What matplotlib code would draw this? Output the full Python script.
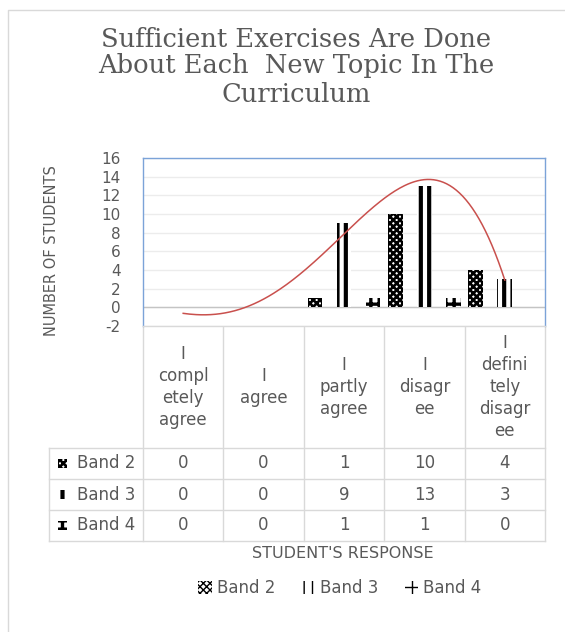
import matplotlib
matplotlib.use('Agg')
import matplotlib.pyplot as plt
import numpy as np
from matplotlib.patches import Rectangle

plt.rcParams['axes.unicode_minus'] = False

# survey answers, one column per response category
categories = ['I\ncompl\netely\nagree', 'I\nagree', 'I\npartly\nagree',
              'I\ndisagr\nee', 'I\ndefini\ntely\ndisagr\nee']
bands = ['Band 2', 'Band 3', 'Band 4']
band2 = [0, 0, 1, 10, 4]
band3 = [0, 0, 9, 13, 3]
band4 = [0, 0, 1, 1, 0]

# polynomial trendline, sampled along the category axis
trend_x = [1.0, 1.37, 1.67, 2.08, 2.5, 2.83, 3.0, 3.37, 3.79, 4.08, 4.33, 4.62, 4.83, 5.0]
trend_y = [-0.73, -0.7, -0.1, 1.23, 3.7, 6.2, 7.85, 11.3, 13.1, 13.6, 13.1, 10.2, 6.6, 3.15]

txt = '#595959'
grid_c = '#d9d9d9'
W, H = 565, 632

def fx(px):
    return px / W

def fy(py):
    return 1 - py / H

fig = plt.figure(figsize=(W / 100, H / 100), dpi=100)

# background layer in pixel units for border, table and titles
bg = fig.add_axes([0, 0, 1, 1], zorder=-1)
bg.set_xlim(0, W)
bg.set_ylim(H, 0)
bg.axis('off')

ax = fig.add_axes([fx(143), fy(326), (545 - 143) / W, (326 - 158) / H])
ax.set_xlim(0.5, 5.5)
ax.set_ylim(-2, 16)
ax.set_yticks(range(-2, 17, 2))
ax.set_xticks([])
ax.tick_params(axis='y', length=0, pad=16, labelsize=11, labelcolor=txt)
ax.grid(axis='y', color='#ececec', lw=1)
ax.set_axisbelow(True)
ax.axhline(0, color='#c4c4c4', lw=1, zorder=1)
for s in ax.spines.values():
    s.set_color('#7ba3d8')
    s.set_linewidth(1)
ax.spines['bottom'].set_color(grid_c)

x = np.arange(1, 6)
w = 0.185
styles = [(band2, -0.36, 'xxxxx', 1.9), (band3, 0.0, '||', 3.0), (band4, 0.36, '++', 2.4)]
handles = []
for vals, off, hatch, hlw in styles:
    with plt.rc_context({'hatch.linewidth': hlw}):
        bars = ax.bar(x + off, vals, w, color='white', edgecolor='black',
                      hatch=hatch, linewidth=0, zorder=2)
    for b in bars:
        if hasattr(b, 'set_hatch_linewidth'):
            b.set_hatch_linewidth(hlw)
    handles.append(bars)

coef = np.polyfit(trend_x, trend_y, 4)
xs = np.linspace(1, 5, 200)
ax.plot(xs, np.polyval(coef, xs), color='#c9504d', lw=1.1, zorder=3)

# chart title
title_lines = ['Sufficient Exercises Are Done', 'About Each  New Topic In The', 'Curriculum']
for line, yb in zip(title_lines, [46.7, 73.5, 101.7]):
    bg.text(296, yb, line, ha='center', va='baseline', fontsize=18.5,
            family='DejaVu Serif', color=txt)

fig.text(fx(52), fy(251), 'NUMBER OF STUDENTS', rotation=90, ha='center',
         va='center', fontsize=10.5, color=txt)

# outer frame
bg.plot([8, 8, W + 5], [H + 5, 10, 10], color='#d9d9d9', lw=1)

# data table under the plot
cols = [ax.transData.transform((e, 0))[0] for e in np.arange(0.5, 6)]
rows = [326, 448, 479, 510, 541]
left = 49
for c in cols:
    bg.plot([c, c], [rows[0], rows[-1]], color=grid_c, lw=1)
bg.plot([left, left], [rows[1], rows[-1]], color=grid_c, lw=1)
for r in rows[1:]:
    bg.plot([left, cols[-1]], [r, r], color=grid_c, lw=1)

centers = [(cols[i] + cols[i + 1]) / 2 for i in range(5)]
for cx, lab in zip(centers, categories):
    bg.text(cx, (rows[0] + rows[1]) / 2, lab, ha='center', va='center',
            fontsize=12, linespacing=1.3, color=txt)

for k, (vals, off, hatch, hlw) in enumerate(styles):
    yc = (rows[k + 1] + rows[k + 2]) / 2
    for cx, v in zip(centers, vals):
        bg.text(cx, yc, str(v), ha='center', va='center', fontsize=12, color=txt)
    with plt.rc_context({'hatch.linewidth': hlw}):
        key = Rectangle((58, yc - 4.5), 9, 9, facecolor='white', edgecolor='black',
                        hatch=hatch, linewidth=0)
    if hasattr(key, 'set_hatch_linewidth'):
        key.set_hatch_linewidth(hlw)
    bg.add_patch(key)
    bg.text(77, yc, bands[k], ha='left', va='center', fontsize=12, color=txt)

bg.text(343, 553, "STUDENT'S RESPONSE", ha='center', va='center',
        fontsize=11.5, color=txt)

fig.legend(handles, bands, loc='center', bbox_to_anchor=(fx(340), fy(588)),
           ncol=3, frameon=False, fontsize=12, handlelength=0.8, handleheight=0.8,
           handletextpad=0.3, columnspacing=1.6, labelcolor=txt)

fig.savefig('out.png', dpi=100, facecolor='white')
